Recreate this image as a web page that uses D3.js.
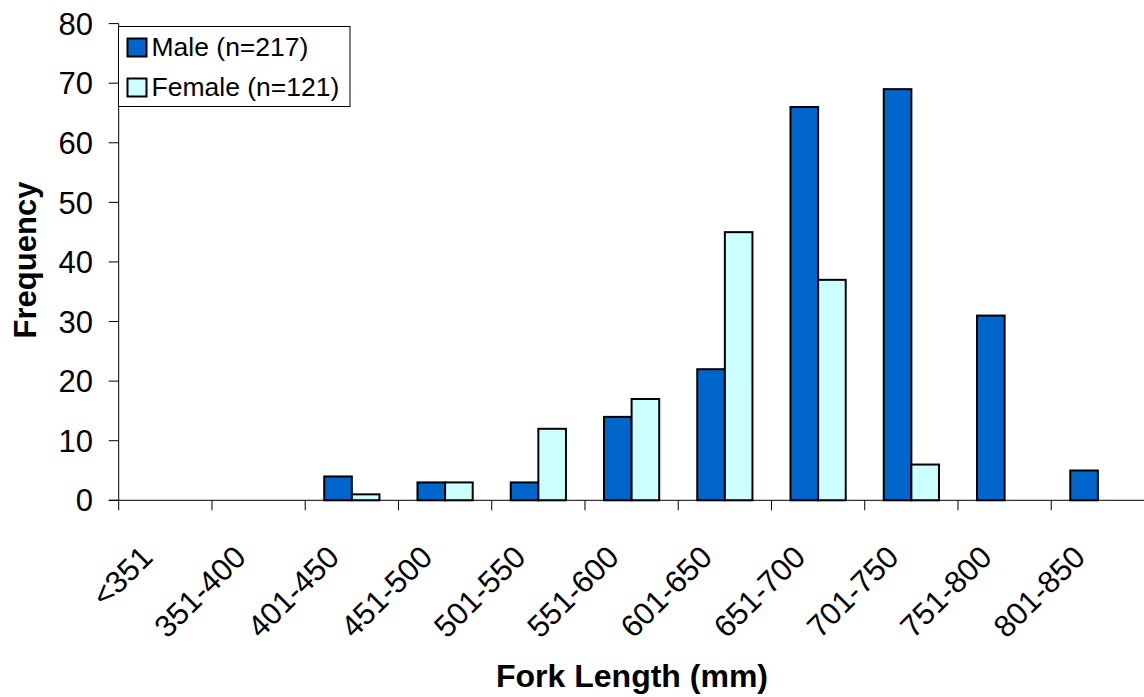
<!DOCTYPE html>
<html>
<head>
<meta charset="utf-8">
<script src="https://cdn.jsdelivr.net/npm/d3@7"></script>
<style>
  html, body { margin: 0; padding: 0; background: #fff; }
  svg { display: block; font-family: "Liberation Sans", Arial, sans-serif; }
</style>
</head>
<body>
<svg id="chart" width="1144" height="697"></svg>
<script>
// Fork-length frequency distribution by sex
const categories = ["<351", "351-400", "401-450", "451-500", "501-550", "551-600",
                    "601-650", "651-700", "701-750", "751-800", "801-850"];
const maleValues   = [0, 0, 4, 3, 3, 14, 22, 66, 69, 31, 5];
const femaleValues = [0, 0, 1, 3, 12, 17, 45, 37, 6, 0, 0];
const seriesNames  = ["Male (n=217)", "Female (n=121)"];
const yTicks       = [0, 10, 20, 30, 40, 50, 60, 70, 80];

const colors = ["#0066CC", "#CCFFFF"];
const series = [maleValues, femaleValues];

const svg = d3.select("#chart");

const plot = { left: 118.7, right: 1144.5, top: 23.6, bottom: 500.3 };

const x = d3.scaleBand()
  .domain(categories)
  .range([plot.left, plot.right])
  .paddingInner(0).paddingOuter(0);

const x1 = d3.scaleBand()
  .domain(d3.range(series.length))
  .range([0, x.bandwidth()])
  .paddingInner(0)
  .paddingOuter(0.689);

const y = d3.scaleLinear().domain([0, 80]).range([plot.bottom, plot.top]);

// Bars
const groups = svg.append("g").selectAll("g")
  .data(categories)
  .join("g")
  .attr("transform", d => `translate(${x(d)},0)`);

groups.selectAll("rect")
  .data((d, i) => series.map((s, k) => ({ k, v: s[i] })))
  .join("rect")
  .filter(d => d.v > 0)
  .attr("x", d => x1(d.k))
  .attr("width", x1.bandwidth())
  .attr("y", d => y(d.v))
  .attr("height", d => y(0) - y(d.v))
  .attr("fill", d => colors[d.k])
  .attr("stroke", "#000")
  .attr("stroke-width", 2);

// Y axis
const yAxis = svg.append("g");
yAxis.append("line")
  .attr("x1", plot.left).attr("x2", plot.left)
  .attr("y1", plot.top).attr("y2", plot.bottom)
  .attr("stroke", "#000").attr("stroke-width", 1);
yAxis.selectAll("line.tick")
  .data(yTicks)
  .join("line")
  .attr("class", "tick")
  .attr("x1", plot.left - 10).attr("x2", plot.left)
  .attr("y1", d => y(d)).attr("y2", d => y(d))
  .attr("stroke", "#000").attr("stroke-width", 1);
yAxis.selectAll("text")
  .data(yTicks)
  .join("text")
  .attr("x", 93)
  .attr("y", d => y(d))
  .attr("dy", "0.36em")
  .attr("text-anchor", "end")
  .attr("font-size", 31)
  .text(d => d);

// X axis
const xAxis = svg.append("g");
xAxis.append("line")
  .attr("x1", plot.left - 10).attr("x2", plot.right)
  .attr("y1", plot.bottom).attr("y2", plot.bottom)
  .attr("stroke", "#000").attr("stroke-width", 1);
xAxis.selectAll("line.tick")
  .data(categories)
  .join("line")
  .attr("class", "tick")
  .attr("x1", d => x(d)).attr("x2", d => x(d))
  .attr("y1", plot.bottom).attr("y2", plot.bottom + 10)
  .attr("stroke", "#000").attr("stroke-width", 1);
xAxis.selectAll("text")
  .data(categories)
  .join("text")
  .attr("transform", d => `translate(${x(d) + x.bandwidth() / 2 - 11},559) rotate(-45)`)
  .attr("text-anchor", "end")
  .attr("font-size", 31)
  .text(d => d);

// Axis titles
svg.append("text")
  .attr("x", 632).attr("y", 687)
  .attr("text-anchor", "middle")
  .attr("font-size", 32)
  .attr("font-weight", "bold")
  .text("Fork Length (mm)");

svg.append("text")
  .attr("transform", "translate(36,260) rotate(-90)")
  .attr("text-anchor", "middle")
  .attr("font-size", 31)
  .attr("font-weight", "bold")
  .text("Frequency");

// Legend
const legend = svg.append("g").attr("transform", "translate(118.5,26.5)");
legend.append("rect")
  .attr("width", 231.5).attr("height", 80)
  .attr("fill", "#fff").attr("stroke", "#000").attr("stroke-width", 1);
const items = legend.selectAll("g.item")
  .data(seriesNames)
  .join("g")
  .attr("class", "item")
  .attr("transform", (d, i) => `translate(0,${12 + i * 40})`);
items.append("rect")
  .attr("x", 9).attr("y", 0)
  .attr("width", 19).attr("height", 18)
  .attr("fill", (d, i) => colors[i])
  .attr("stroke", "#000").attr("stroke-width", 2);
items.append("text")
  .attr("x", 33).attr("y", 17.5)
  .attr("font-size", 26.5)
  .text(d => d);
</script>
</body>
</html>
